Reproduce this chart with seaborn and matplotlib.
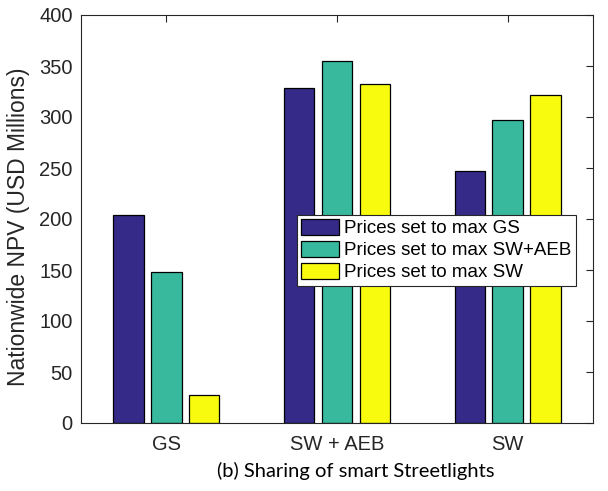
import matplotlib
matplotlib.use("Agg")
import matplotlib.pyplot as plt
import seaborn as sns
import pandas as pd

categories = ["GS", "SW + AEB", "SW"]
series = ["Prices set to max GS", "Prices set to max SW+AEB", "Prices set to max SW"]
npv_max_gs = [204, 328, 247.5]
npv_max_swaeb = [148, 355, 297]
npv_max_sw = [27, 332, 321.5]
yticks = [0, 50, 100, 150, 200, 250, 300, 350, 400]

colors = ["#352a87", "#38b99e", "#f9fb0e"]

rows = []
for name, vals in zip(series, [npv_max_gs, npv_max_swaeb, npv_max_sw]):
    for c, v in zip(categories, vals):
        rows.append({"cat": c, "series": name, "npv": v})
df = pd.DataFrame(rows)

sns.set_style("white")
plt.rcParams["font.family"] = ["Liberation Sans", "DejaVu Sans"]

fig = plt.figure(figsize=(6.08, 4.91), dpi=100)
ax = fig.add_axes([81 / 608, 1 - 423 / 491, 512 / 608, 408 / 491])

sns.barplot(data=df, x="cat", y="npv", hue="series", order=categories,
            hue_order=series, palette=colors, width=0.665, gap=0.19,
            edgecolor="black", linewidth=0.9, saturation=1, ax=ax)

ax.set_xlim(-0.5, 2.5)
ax.set_ylim(0, 400)
ax.set_yticks(yticks)
ax.set_xlabel("")
ax.set_ylabel("Nationwide NPV (USD Millions)", fontsize=16.5, color="#262626")
ax.yaxis.set_label_coords(-(81 - 30) / 512, 0.48)
ax.tick_params(axis="both", direction="in", length=5, width=0.8,
               top=True, right=True, labelsize=14.5, colors="#262626", pad=6)
ax.tick_params(axis="x", pad=9)
for s in ax.spines.values():
    s.set_color("#262626")
    s.set_linewidth(0.8)

leg = ax.legend(loc="upper left", bbox_to_anchor=((297 - 81) / 512, (423 - 215) / 408),
                fontsize=13.5, frameon=True, fancybox=False, framealpha=1,
                edgecolor="#262626", handlelength=2.0, handleheight=0.9,
                handletextpad=0.3, labelspacing=0.2, borderpad=0.22,
                borderaxespad=0)
leg.get_frame().set_linewidth(0.8)
for t in leg.get_texts():
    t.set_color("black")

fig.text(356 / 608, 1 - 471 / 491, "(b) Sharing of smart Streetlights",
         ha="center", va="center", fontsize=14.5, color="black",
         family=["Lato", "DejaVu Sans"])

fig.savefig("out.png", dpi=100)
